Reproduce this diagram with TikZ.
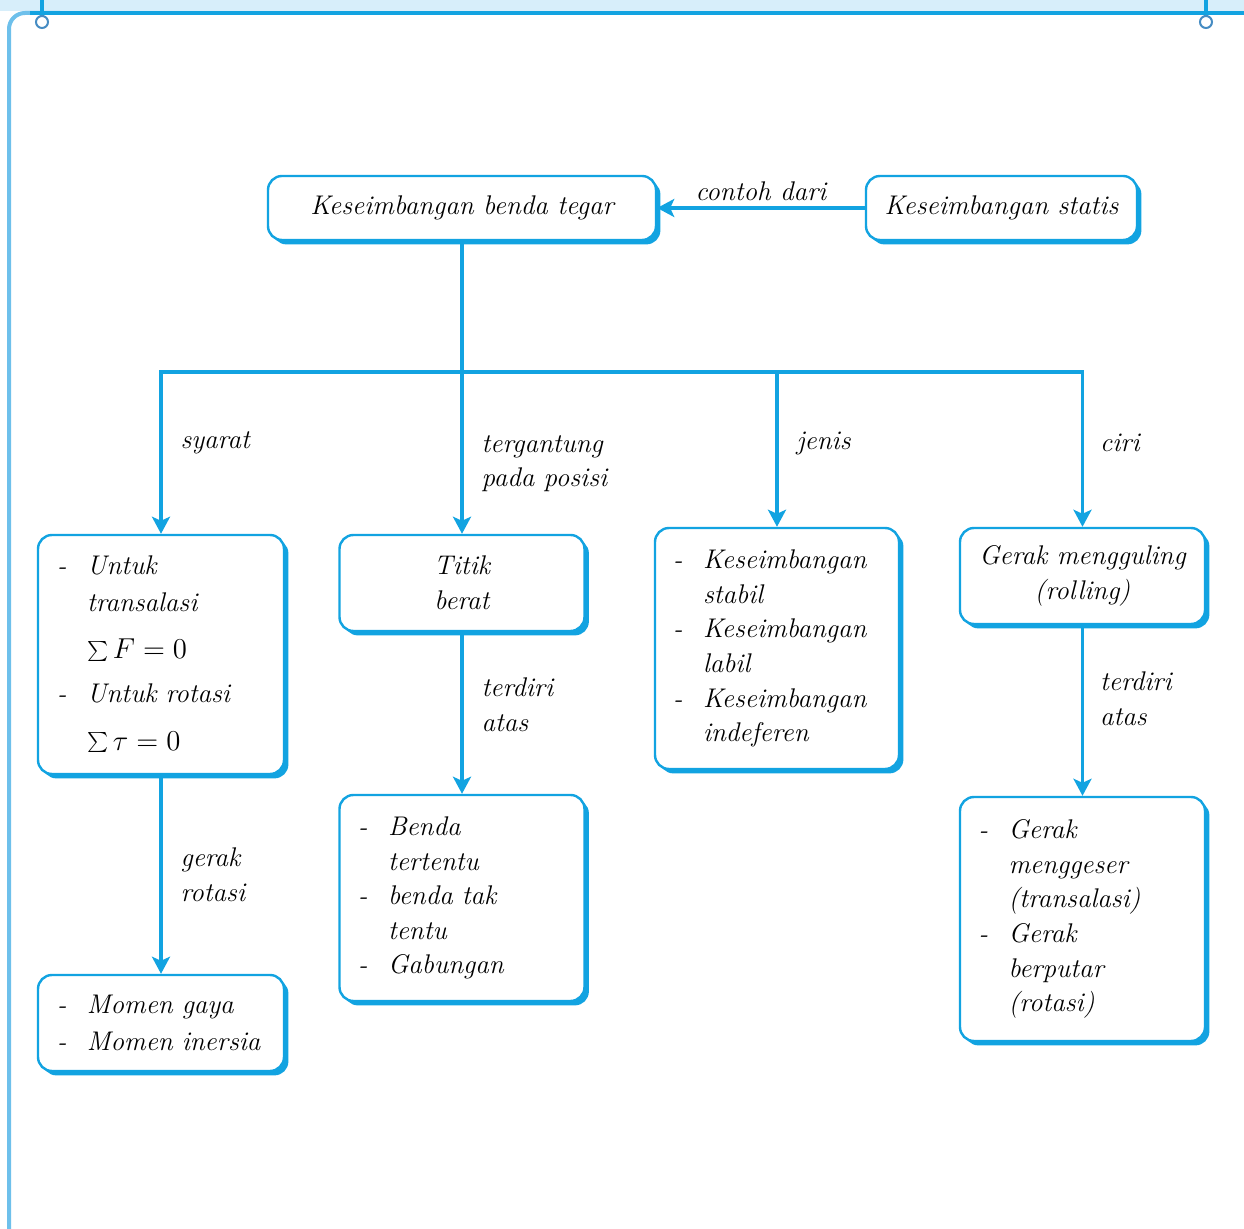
\documentclass[tikz,border=0pt]{standalone}
\usetikzlibrary{arrows.meta,positioning,shadows}
\definecolor{petaBiru}{RGB}{18,163,225}
\definecolor{tepiMuda}{RGB}{110,192,235}
\definecolor{pitaMuda}{RGB}{215,238,250}
\definecolor{pakuBiru}{RGB}{70,140,195}
\newcommand{\hurufpeta}{\fontsize{13.5pt}{17.3pt}\selectfont\itshape}
\newcommand{\butir}[1]{\makebox[15pt][l]{-}\mbox{#1}}
\newcommand{\lanjut}[1]{\hspace*{15pt}\mbox{#1}}
\begin{document}
\begin{tikzpicture}[x=0.5pt, y=-0.5pt, thick,
	kotak/.style={draw=petaBiru, line width=1.2pt, fill=white, rounded corners=7pt, inner sep=0pt,
		font=\hurufpeta, drop shadow={shadow xshift=2.2pt, shadow yshift=-2.2pt, fill=petaBiru, opacity=1}},
	daftar/.style={kotak, text width=104pt, align=left},
	panah/.style={-{Stealth[length=8.5pt, width=9pt, inset=2pt]}, draw=petaBiru, line width=1.6pt},
	ket/.style={font=\hurufpeta, align=left, inner sep=0pt}]
	\clip (0,0) rectangle (1244,1229);
	
	% 1. 边框
	\fill[pitaMuda] (0,0) rectangle (1244,11);
	\draw[tepiMuda, line width=2pt, rounded corners=8pt] (9,1240) -- (9,13) -- (60,13);
	\draw[petaBiru, line width=1.6pt] (30,13) -- (1244,13);
	\draw[petaBiru, line width=1.6pt] (42,0) -- (42,16);
	\draw[petaBiru, line width=1.6pt] (1206,0) -- (1206,16);
	\draw[pakuBiru, line width=1pt, fill=white] (42,22) circle (3pt);
	\draw[pakuBiru, line width=1pt, fill=white] (1206,22) circle (3pt);
	
	% 2. 方框
	\node[kotak, minimum width=194pt, minimum height=32pt] (tegar) at (462,208) {Keseimbangan benda tegar};
	\node[kotak, minimum width=135.5pt, minimum height=32pt] (statis) at (1001.5,208) {Keseimbangan statis};
	
	\node[daftar, minimum width=123pt, minimum height=119.5pt] (syarat) at (161,654.5)
		{\butir{Untuk}\\[1pt] \lanjut{transalasi}\\[6.5pt] \lanjut{$\textstyle\sum F = 0$}\\[4.5pt] \butir{Untuk rotasi}\\[6.5pt] \lanjut{$\textstyle\sum \tau = 0$}};
	\node[kotak, minimum width=122.5pt, minimum height=48pt, align=center] (titik) at (462,583) {Titik\\ berat};
	\node[daftar, minimum width=122pt, minimum height=120.5pt] (jenis) at (777,648.5)
		{\butir{Keseimbangan}\\ \lanjut{stabil}\\ \butir{Keseimbangan}\\ \lanjut{labil}\\ \butir{Keseimbangan}\\ \lanjut{indeferen}};
	\node[kotak, minimum width=122.5pt, minimum height=48pt, align=center] (rolling) at (1082.5,576) {Gerak mengguling\\ (rolling)};
	
	\node[daftar, minimum width=123pt, minimum height=48pt] (momen) at (161,1023)
		{\butir{Momen gaya}\\[1pt] \butir{Momen inersia}};
	\node[daftar, minimum width=122.5pt, minimum height=103pt] (benda) at (462,898)
		{\butir{Benda}\\ \lanjut{tertentu}\\ \butir{benda tak}\\ \lanjut{tentu}\\ \butir{Gabungan}};
	\node[daftar, minimum width=122.5pt, minimum height=122pt] (gerak) at (1082.5,919)
		{\butir{Gerak}\\ \lanjut{menggeser}\\ \lanjut{(transalasi)}\\ \butir{Gerak}\\ \lanjut{berputar}\\ \lanjut{(rotasi)}};
	
	% 3. 连线
	\coordinate (cabang) at (462,372);
	\draw[panah] (statis) -- node[ket, above=3pt]{contoh dari} (tegar);
	\draw[panah] (tegar.south) -- node[ket, right=9pt, pos=0.76]{tergantung\\ pada posisi} (titik.north);
	\draw[panah] (cabang) -| node[ket, right=9pt, pos=0.72]{syarat} (syarat.north);
	\draw[panah] (cabang) -| node[ket, right=9pt, pos=0.73]{jenis} (jenis.north);
	\draw[panah] (cabang) -| node[ket, right=8pt, pos=0.73]{ciri} (rolling.north);
	
	\draw[panah] (syarat.south) -- node[ket, right=9pt]{gerak\\ rotasi} (momen.north);
	\draw[panah] (titik.south) -- node[ket, right=9pt, pos=0.45]{terdiri\\ atas} (benda.north);
	\draw[panah] (rolling.south) -- node[ket, right=8pt, pos=0.43]{terdiri\\ atas} (gerak.north);
\end{tikzpicture}
\end{document}
